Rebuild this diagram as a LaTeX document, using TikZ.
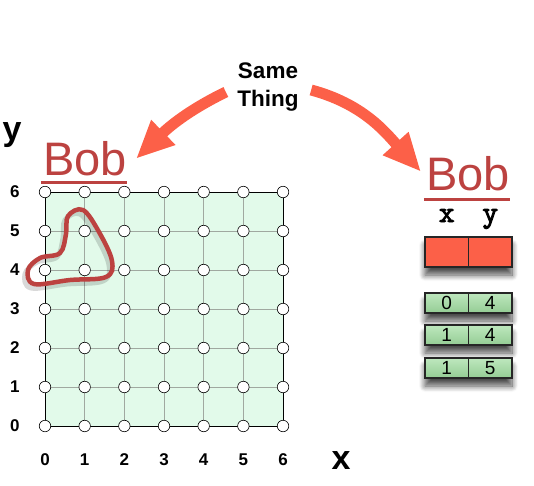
\documentclass[tikz,border=0pt]{standalone}
\usepackage{fontspec}
\setmainfont{Liberation Sans}
\newfontfamily\codefont[Extension=.otf, FakeBold=3]{lmmono10-regular}
\usetikzlibrary{arrows.meta, positioning, shadows.blur, backgrounds}
\definecolor{bobred}{RGB}{188,66,64}
\definecolor{hotred}{RGB}{252,96,72}
\definecolor{gridfill}{RGB}{226,250,234}
\definecolor{gridline}{RGB}{160,168,160}
\definecolor{celltop}{RGB}{190,232,190}
\definecolor{cellbot}{RGB}{148,204,148}
\tikzset{
  dot/.style={circle, draw, fill=white, line width=0.6pt, minimum size=11.5pt, inner sep=0pt},
  tick/.style={font=\bfseries\fontsize{17}{17}\selectfont},
  axis/.style={inner sep=0pt, font=\bfseries\fontsize{34}{34}\selectfont},
  bobname/.style={text=bobred, inner sep=0pt, anchor=base, font=\fontsize{47}{47}\selectfont},
  uline/.style={draw=bobred, line width=3pt},
  bigarrow/.style={-{Triangle[length=38pt, width=32pt]}, line width=11pt, draw=hotred},
  cell/.style={draw=black!85, line width=1.3pt, minimum width=43.5pt, inner sep=0pt, outer sep=0pt},
  keycell/.style={cell, fill=hotred, minimum height=30pt},
  valcell/.style={cell, top color=celltop, bottom color=cellbot, minimum height=20pt,
                  font=\fontsize{19}{19}\selectfont},
  rowshadow/.style={fill=white, blur shadow={shadow xshift=0pt, shadow yshift=-8pt,
                    shadow blur radius=6pt, shadow blur steps=10, shadow opacity=70}},
  header/.style={inner sep=0pt, anchor=base, font=\codefont\fontsize{30}{30}\selectfont},
  outline/.style={draw=bobred, line width=4.5pt},
}
\begin{document}
\begin{tikzpicture}[x=1pt, y=-1pt]
  \useasboundingbox (0,0) rectangle (534,485);

  % ---------- the grid of points ----------
  \begin{scope}[shift={(45,426)}, x=39.67pt, y=39pt]
    \fill[gridfill] (0,0) rectangle (6,6);
    \draw[gridline, line width=0.6pt, step=1] (0,0) grid (6,6);
    \draw[line width=0.8pt] (0,0) rectangle (6,6);
    \foreach \i in {0,...,6} {
      \foreach \j in {0,...,6}
        \node[dot] (p-\i-\j) at (\i,\j) {};
      \node[tick] (tx-\i) at (\i,-0.87) {\i};
      \node[tick] (ty-\i) at (-0.76,\i) {\i};
    }
  \end{scope}
  \node[axis] (ylab) at (12,135) {y};
  \node[axis] (xlab) at (341,461) {x};

  % the loop round (0,4), (1,4) and (1,5)
  \begin{scope}[xshift=-3pt, yshift=-4pt]
    \draw[outline, draw=black, opacity=0.15, line width=5pt]
      plot[smooth cycle, tension=0.6] coordinates {(28,270) (40,258) (60,253) (66,234)
        (68,216) (83,210) (99,232) (112,261) (106,277) (70,280) (34,284)};
  \end{scope}
  \draw[outline]
    plot[smooth cycle, tension=0.6] coordinates {(28,270) (40,258) (60,253) (66,234)
      (68,216) (83,210) (99,232) (112,261) (106,277) (70,280) (34,284)};

  % ---------- names ----------
  \node[bobname] (bobL) at (85,175) {Bob};
  \draw[uline] ([yshift=-7pt, xshift=-2pt]bobL.base west) -- ([yshift=-7pt]bobL.base east);
  \node[bobname] (bobR) at (468,190) {Bob};
  \draw[uline] ([yshift=-9pt, xshift=-2pt]bobR.base west) -- ([yshift=-9pt]bobR.base east);

  % ---------- the table ----------
  \node[keycell] (kx) at (446.75,252) {};
  \node[keycell, right=0pt of kx] (ky) {};
  \node[header] (hx) at ([yshift=15pt]kx.north) {x};
  \node[header] (hy) at ([yshift=15pt]ky.north) {y};

  \node[valcell] (ax) at (446.75,303) {0};
  \node[valcell, right=0pt of ax] (ay) {4};
  \node[valcell] (bx) at (446.75,335) {1};
  \node[valcell, right=0pt of bx] (by) {4};
  \node[valcell] (cx) at (446.75,368) {1};
  \node[valcell, right=0pt of cx] (cy) {5};

  % one soft shadow under each row
  \begin{scope}[on background layer]
    \foreach \a/\b in {kx/ky, ax/ay, bx/by, cx/cy}
      \path[rowshadow] (\a.north west) rectangle (\b.south east);
  \end{scope}

  % ---------- same thing ----------
  \node[align=center, font=\bfseries\fontsize{22.5}{28}\selectfont] (same) at (268,87) {Same\\Thing};
  \draw[bigarrow] ([xshift=-8pt, yshift=-5pt]same.west) to[out=206, in=44]
    ([xshift=9pt, yshift=-18pt]bobL.north east);
  \draw[bigarrow] ([xshift=9pt, yshift=-3pt]same.east) to[out=-15, in=132]
    ([xshift=-5pt, yshift=-16pt]bobR.north west);

\end{tikzpicture}
\end{document}
